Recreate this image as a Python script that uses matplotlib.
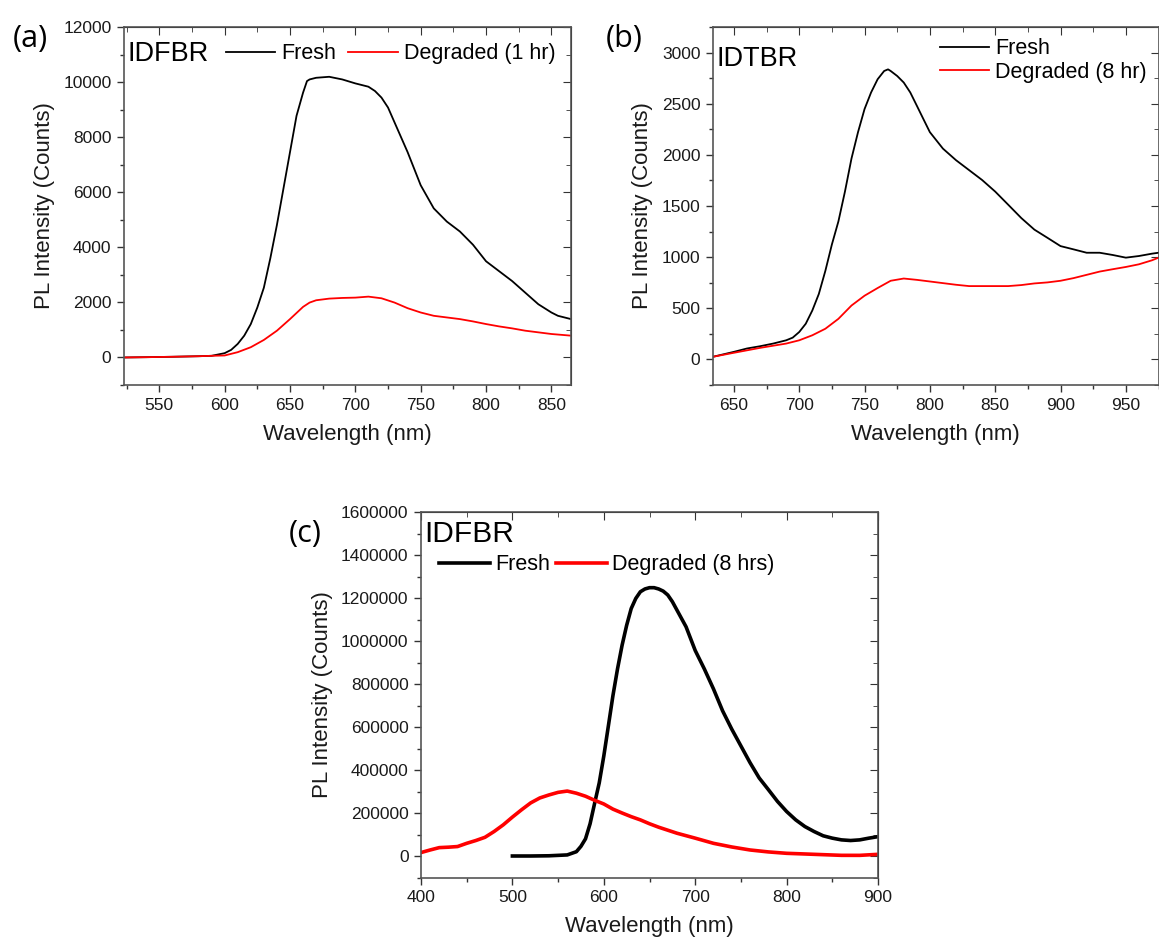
import numpy as np
import matplotlib
matplotlib.use("Agg")
import matplotlib.pyplot as plt
from matplotlib.ticker import MultipleLocator

plt.rcParams['font.family'] = ['Liberation Sans', 'DejaVu Sans']

# ---- panel (a): IDFBR, fresh vs degraded 1 hr ----
a_wl_f = [524, 540, 560, 580, 590, 600, 605, 610, 615, 620, 625, 630, 635, 640, 645,
          650, 655, 660, 663, 665, 670, 680, 690, 700, 710, 715, 720, 725, 730, 740,
          750, 760, 770, 780, 790, 800, 810, 820, 830, 840, 850, 855, 865]
a_fresh = [0, 10, 25, 45, 60, 156, 276, 492, 792, 1212, 1813, 2533, 3613, 4814, 6134,
           7455, 8775, 9616, 10036, 10096, 10156, 10192, 10096, 9952, 9832, 9676, 9436, 9076, 8535, 7455,
           6254, 5414, 4934, 4574, 4094, 3493, 3133, 2773, 2353, 1933, 1633, 1513, 1393]
a_wl_d = [524, 540, 560, 580, 590, 600, 610, 620, 630, 640, 650, 660, 665, 670, 680,
          690, 700, 710, 720, 730, 740, 750, 760, 770, 780, 790, 800, 810, 820, 830,
          840, 850, 865]
a_deg = [0, 10, 25, 45, 60, 72, 192, 372, 636, 972, 1393, 1837, 1993, 2077, 2137,
         2161, 2173, 2209, 2149, 1993, 1789, 1633, 1513, 1453, 1393, 1309, 1213, 1128, 1056, 972,
         912, 852, 792]

# ---- panel (b): IDTBR, fresh vs degraded 8 hr ----
b_wl_f = [634, 650, 660, 670, 680, 690, 695, 700, 705, 710, 715, 720, 725, 730, 735,
          740, 745, 750, 755, 760, 765, 768, 770, 775, 780, 785, 790, 795, 800, 810,
          820, 830, 840, 850, 860, 870, 880, 890, 900, 910, 920, 930, 940, 950, 960,
          970, 975]
b_fresh = [26, 74, 107, 129, 155, 187, 213, 268, 349, 478, 640, 866, 1124, 1350, 1641,
           1964, 2222, 2448, 2610, 2739, 2820, 2836, 2820, 2771, 2707, 2610, 2481, 2351, 2222, 2061,
           1948, 1851, 1754, 1641, 1512, 1382, 1269, 1189, 1108, 1076, 1043, 1043, 1021, 995, 1011,
           1034, 1043]
b_wl_d = [634, 650, 670, 690, 700, 710, 720, 730, 740, 750, 760, 770, 780, 790, 800,
          810, 820, 830, 840, 850, 860, 870, 880, 890, 900, 910, 920, 930, 940, 950,
          960, 970, 975]
b_deg = [26, 65, 113, 155, 187, 236, 300, 397, 527, 623, 698, 769, 791, 778, 762,
         746, 730, 717, 717, 717, 717, 727, 743, 753, 769, 795, 827, 859, 882, 904,
         930, 969, 995]

# ---- panel (c): IDFBR, fresh vs degraded 8 hrs ----
c_wl_f = [500, 520, 540, 550, 560, 570, 575, 580, 585, 590, 595, 600, 605, 610, 615,
          620, 625, 630, 635, 640, 645, 650, 655, 660, 665, 670, 675, 680, 690, 700,
          710, 720, 730, 740, 750, 760, 770, 780, 790, 800, 810, 820, 830, 840, 850,
          860, 870, 880, 890, 900]
c_fresh = [0, 0, 1000, 3000, 5000, 20000, 45000, 80000, 150000, 246000, 340000, 465000, 605000, 746000, 870000,
           980000, 1073000, 1151000, 1198000, 1229000, 1242000, 1248000, 1248000, 1242000, 1232000, 1214000, 1183000, 1144000, 1066000, 956000,
           870000, 777000, 675000, 590000, 512000, 434000, 363000, 309000, 254000, 207000, 168000, 137000, 114000, 94000, 83000,
           75000, 72000, 75000, 83000, 90000]
c_wl_d = [400, 410, 420, 430, 440, 450, 460, 470, 480, 490, 500, 510, 520, 530, 540,
          550, 560, 570, 580, 590, 600, 610, 620, 630, 640, 650, 660, 670, 680, 700,
          720, 740, 760, 780, 800, 820, 840, 860, 880, 900]
c_deg = [16000, 28000, 39000, 41000, 44000, 59000, 72000, 87000, 114000, 145000, 181000, 215000, 247000, 270000, 284000,
         296000, 302000, 292000, 278000, 259000, 242000, 218000, 200000, 183000, 168000, 150000, 134000, 120000, 106000, 83000,
         59000, 42000, 28000, 19000, 12500, 9400, 6200, 3100, 3000, 7800]

RED = '#ff0000'
TICK_FS = 12.5
LAB_FS = 16
LEG_FS = 15.5
NAME_FS = 19.5
PANEL_FS = 22
W, H = 1159, 943


def px_axes(l, r, t, b):
    return [l / W, 1 - b / H, (r - l) / W, (b - t) / H]


def style_axes(ax, xmaj, xmin, ymaj, ymin, yticks):
    ax.xaxis.set_major_locator(MultipleLocator(xmaj))
    ax.xaxis.set_minor_locator(MultipleLocator(xmin))
    ax.yaxis.set_minor_locator(MultipleLocator(ymin))
    ax.set_yticks(yticks)
    ax.ticklabel_format(axis='y', style='plain', useOffset=False)
    ax.tick_params(which='both', direction='out', labelsize=TICK_FS, width=1.0,
                   colors='#333333', labelcolor='#1a1a1a', pad=4)
    ax.tick_params(which='major', length=5)
    ax.tick_params(which='minor', length=3)
    for sp in ax.spines.values():
        sp.set_linewidth(1.2)
        sp.set_color('#555555')
    # mirrored inward ticks on top and right
    top = ax.secondary_xaxis('top')
    top.xaxis.set_major_locator(MultipleLocator(xmaj))
    top.xaxis.set_minor_locator(MultipleLocator(xmin))
    top.tick_params(which='both', direction='in', labeltop=False, colors='#333333')
    top.tick_params(which='major', length=6)
    top.tick_params(which='minor', length=3.5)
    right = ax.secondary_yaxis('right')
    right.yaxis.set_major_locator(MultipleLocator(ymaj))
    right.yaxis.set_minor_locator(MultipleLocator(ymin))
    right.tick_params(which='both', direction='in', labelright=False, colors='#333333')
    right.tick_params(which='major', length=6)
    right.tick_params(which='minor', length=3.5)
    ax.set_xlabel('Wavelength (nm)', fontsize=LAB_FS, labelpad=8, color='#1a1a1a')
    ax.set_ylabel('PL Intensity (Counts)', fontsize=LAB_FS, labelpad=6, color='#1a1a1a')


fig = plt.figure(figsize=(11.59, 9.43), dpi=100)

# (a)
ax1 = fig.add_axes(px_axes(124, 571, 27, 385))
ax1.plot(a_wl_f, a_fresh, color='black', lw=1.3, label='Fresh')
ax1.plot(a_wl_d, a_deg, color=RED, lw=1.3, label='Degraded (1 hr)')
ax1.set_xlim(523, 865)
ax1.set_ylim(-1000, 12000)
style_axes(ax1, 50, 25, 2000, 1000, np.arange(0, 12001, 2000))
ax1.text(0.008, 0.925, 'IDFBR', transform=ax1.transAxes, fontsize=NAME_FS, va='center', ha='left')
ax1.legend(loc='center left', bbox_to_anchor=(0.228, 0.925), ncol=2, frameon=False, fontsize=LEG_FS,
           handlelength=2.3, handletextpad=0.28, columnspacing=0.55, borderaxespad=0, borderpad=0)
fig.text(13 / W, 1 - 39 / H, '(a)', fontsize=PANEL_FS, family='Open Sans', va='center', ha='left')

# (b)
ax2 = fig.add_axes(px_axes(713, 1158.5, 27, 385))
ax2.plot(b_wl_f, b_fresh, color='black', lw=1.3, label='Fresh')
ax2.plot(b_wl_d, b_deg, color=RED, lw=1.3, label='Degraded (8 hr)')
ax2.set_xlim(634, 975)
ax2.set_ylim(-250, 3250)
style_axes(ax2, 50, 25, 500, 250, np.arange(0, 3001, 500))
ax2.text(0.008, 0.91, 'IDTBR', transform=ax2.transAxes, fontsize=NAME_FS, va='center', ha='left')
ax2.legend(loc='center left', bbox_to_anchor=(0.509, 0.906), ncol=1, frameon=False, fontsize=LEG_FS,
           handlelength=2.3, handletextpad=0.28, labelspacing=0.12, borderaxespad=0, borderpad=0)
fig.text(606 / W, 1 - 39 / H, '(b)', fontsize=PANEL_FS, family='Open Sans', va='center', ha='left')

# (c)
ax3 = fig.add_axes(px_axes(421, 878, 512, 877.5))
ax3.plot(c_wl_f, c_fresh, color='black', lw=2.6, label='Fresh')
ax3.plot(c_wl_d, c_deg, color=RED, lw=2.6, label='Degraded (8 hrs)')
ax3.set_xlim(400, 900)
ax3.set_ylim(-100000, 1600000)
style_axes(ax3, 100, 50, 200000, 100000, np.arange(0, 1600001, 200000))
ax3.text(0.008, 0.94, 'IDFBR', transform=ax3.transAxes, fontsize=NAME_FS + 2, va='center', ha='left')
ax3.legend(loc='center left', bbox_to_anchor=(0.04, 0.855), ncol=2, frameon=False, fontsize=LEG_FS,
           handlelength=2.35, handletextpad=0.23, columnspacing=0.3, borderaxespad=0, borderpad=0)
fig.text(289 / W, 1 - 534 / H, '(c)', fontsize=PANEL_FS, family='Open Sans', va='center', ha='left')

fig.savefig('out.png', dpi=100)
